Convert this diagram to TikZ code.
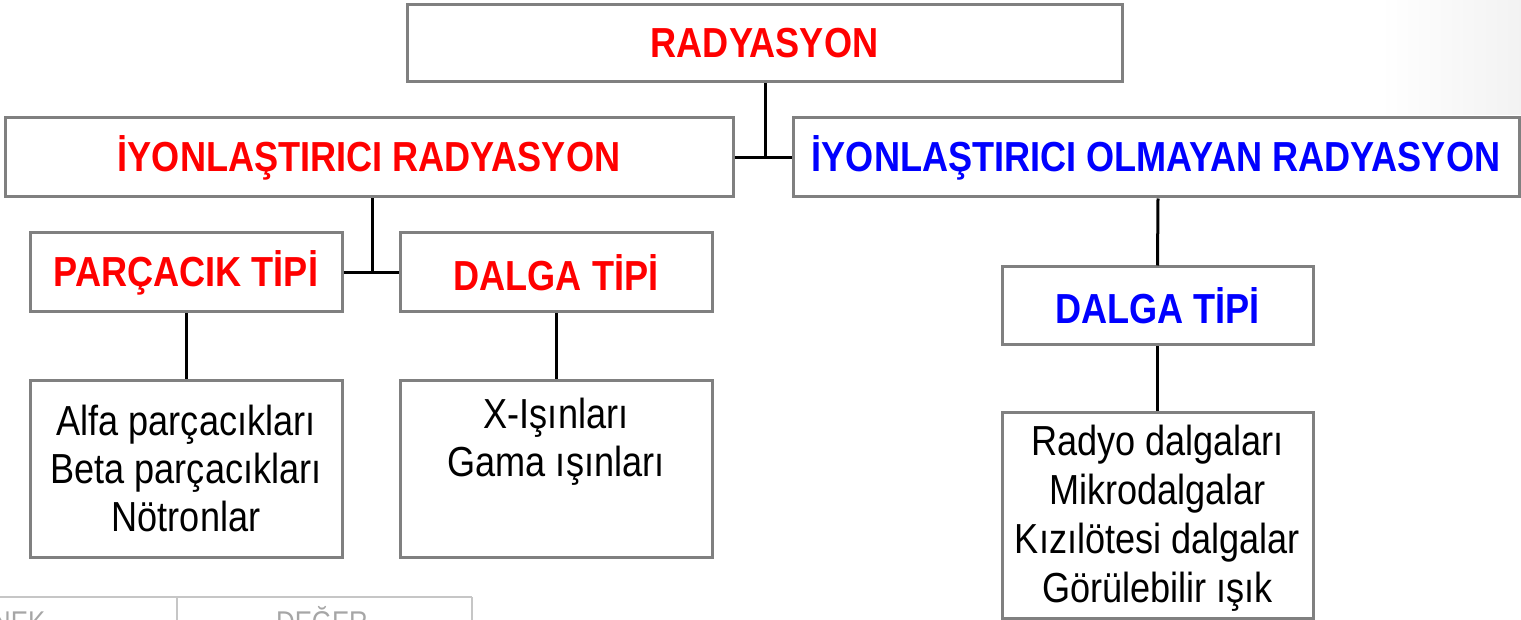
\documentclass[tikz,border=0pt]{standalone}
\usepackage{fontspec}
\setmainfont{Liberation Sans}[FakeStretch=0.86]
\definecolor{hred}{HTML}{FF0000}
\definecolor{hblue}{HTML}{0000FF}
\definecolor{boxgray}{HTML}{808080}
\tikzset{
  box/.style={draw=boxgray, line width=3pt, fill=white, inner sep=0pt, align=center},
  head/.style={box, font=\fontsize{42}{50}\selectfont\bfseries},
  body/.style={box, font=\fontsize{42}{48}\selectfont, text=black},
  bodytext/.style={inner sep=0pt, align=center, font=\fontsize{42}{49}\selectfont, text=black},
  link/.style={draw=black, line width=3pt},
}
\begin{document}
\begin{tikzpicture}[x=1pt,y=-1pt]
\useasboundingbox (0,0) rectangle (1521,620);
\shade[left color=white, right color=gray!10] (1380,0) rectangle (1521,115);
% partial table at the bottom
\begin{scope}
\clip (0,585) rectangle (480,620);
\draw[gray!45, line width=2pt] (0,597) -- (472,597);
\draw[gray!45, line width=1.5pt] (177,597) -- (177,620);
\draw[gray!45, line width=1.5pt] (472,597) -- (472,620);
\node[anchor=base west, inner sep=0pt, text=gray!70, font=\fontsize{30}{30}\selectfont] (tnek) at (-8,632) {NEK};
\node[anchor=base, inner sep=0pt, text=gray!70, font=\fontsize{30}{30}\selectfont] (tdeg) at (322,632) {DEĞER};
\end{scope}
% boxes
\node[head, text=hred, minimum width=715pt, minimum height=77pt] (R) at (764.5,43.5) {RADYASYON};
\node[head, text=hred, minimum width=728pt, minimum height=79pt] (IR) at (369,157.5) {İYONLAŞTIRICI RADYASYON};
\node[head, text=hblue, minimum width=726pt, minimum height=79pt] (IOR) at (1156,157.5) {İYONLAŞTIRICI OLMAYAN RADYASYON};
\node[head, text=hred, minimum width=312pt, minimum height=79pt] (PT) at (186,272.5) {PARÇACIK TİPİ};
\node[head, text=hred, minimum width=312pt, minimum height=79pt] (DT) at (556,272.5) {DALGA TİPİ};
\node[head, text=hblue, minimum width=311pt, minimum height=78pt] (DT2) at (1157.5,306) {DALGA TİPİ};
\node[body, minimum width=312pt, minimum height=177pt] (A) at (186,468.5) {Alfa parçacıkları\\Beta parçacıkları\\Nötronlar};
\node[body, minimum width=312pt, minimum height=177pt] (X) at (556,468.5) {X-Işınları\\Gama ışınları\\\strut};
\node[box, minimum width=311pt, minimum height=206pt] (RD) at (1157.5,515) {};
\node[bodytext] (RDt) at ([yshift=-3pt]RD.center) {Radyo dalgaları\\Mikrodalgalar\\Kızılötesi dalgalar\\Görülebilir ışık};
% connectors
\coordinate (j1) at (765,157.5);
\coordinate (j2) at (372,272.5);
\draw[link] ([xshift=0.5pt]R.south) -- (j1);
\draw[link] (IR.east) -- (IOR.west);
\draw[link] ([xshift=3pt]IR.south) -- (j2);
\draw[link] (PT.east) -- (DT.west);
\draw[link] (PT.south) -- (A.north);
\draw[link] (DT.south) -- (X.north);
\draw[link] ([xshift=2pt]IOR.south) -- (DT2.north);
\draw[link] (DT2.south) -- (RD.north);
\end{tikzpicture}
\end{document}
